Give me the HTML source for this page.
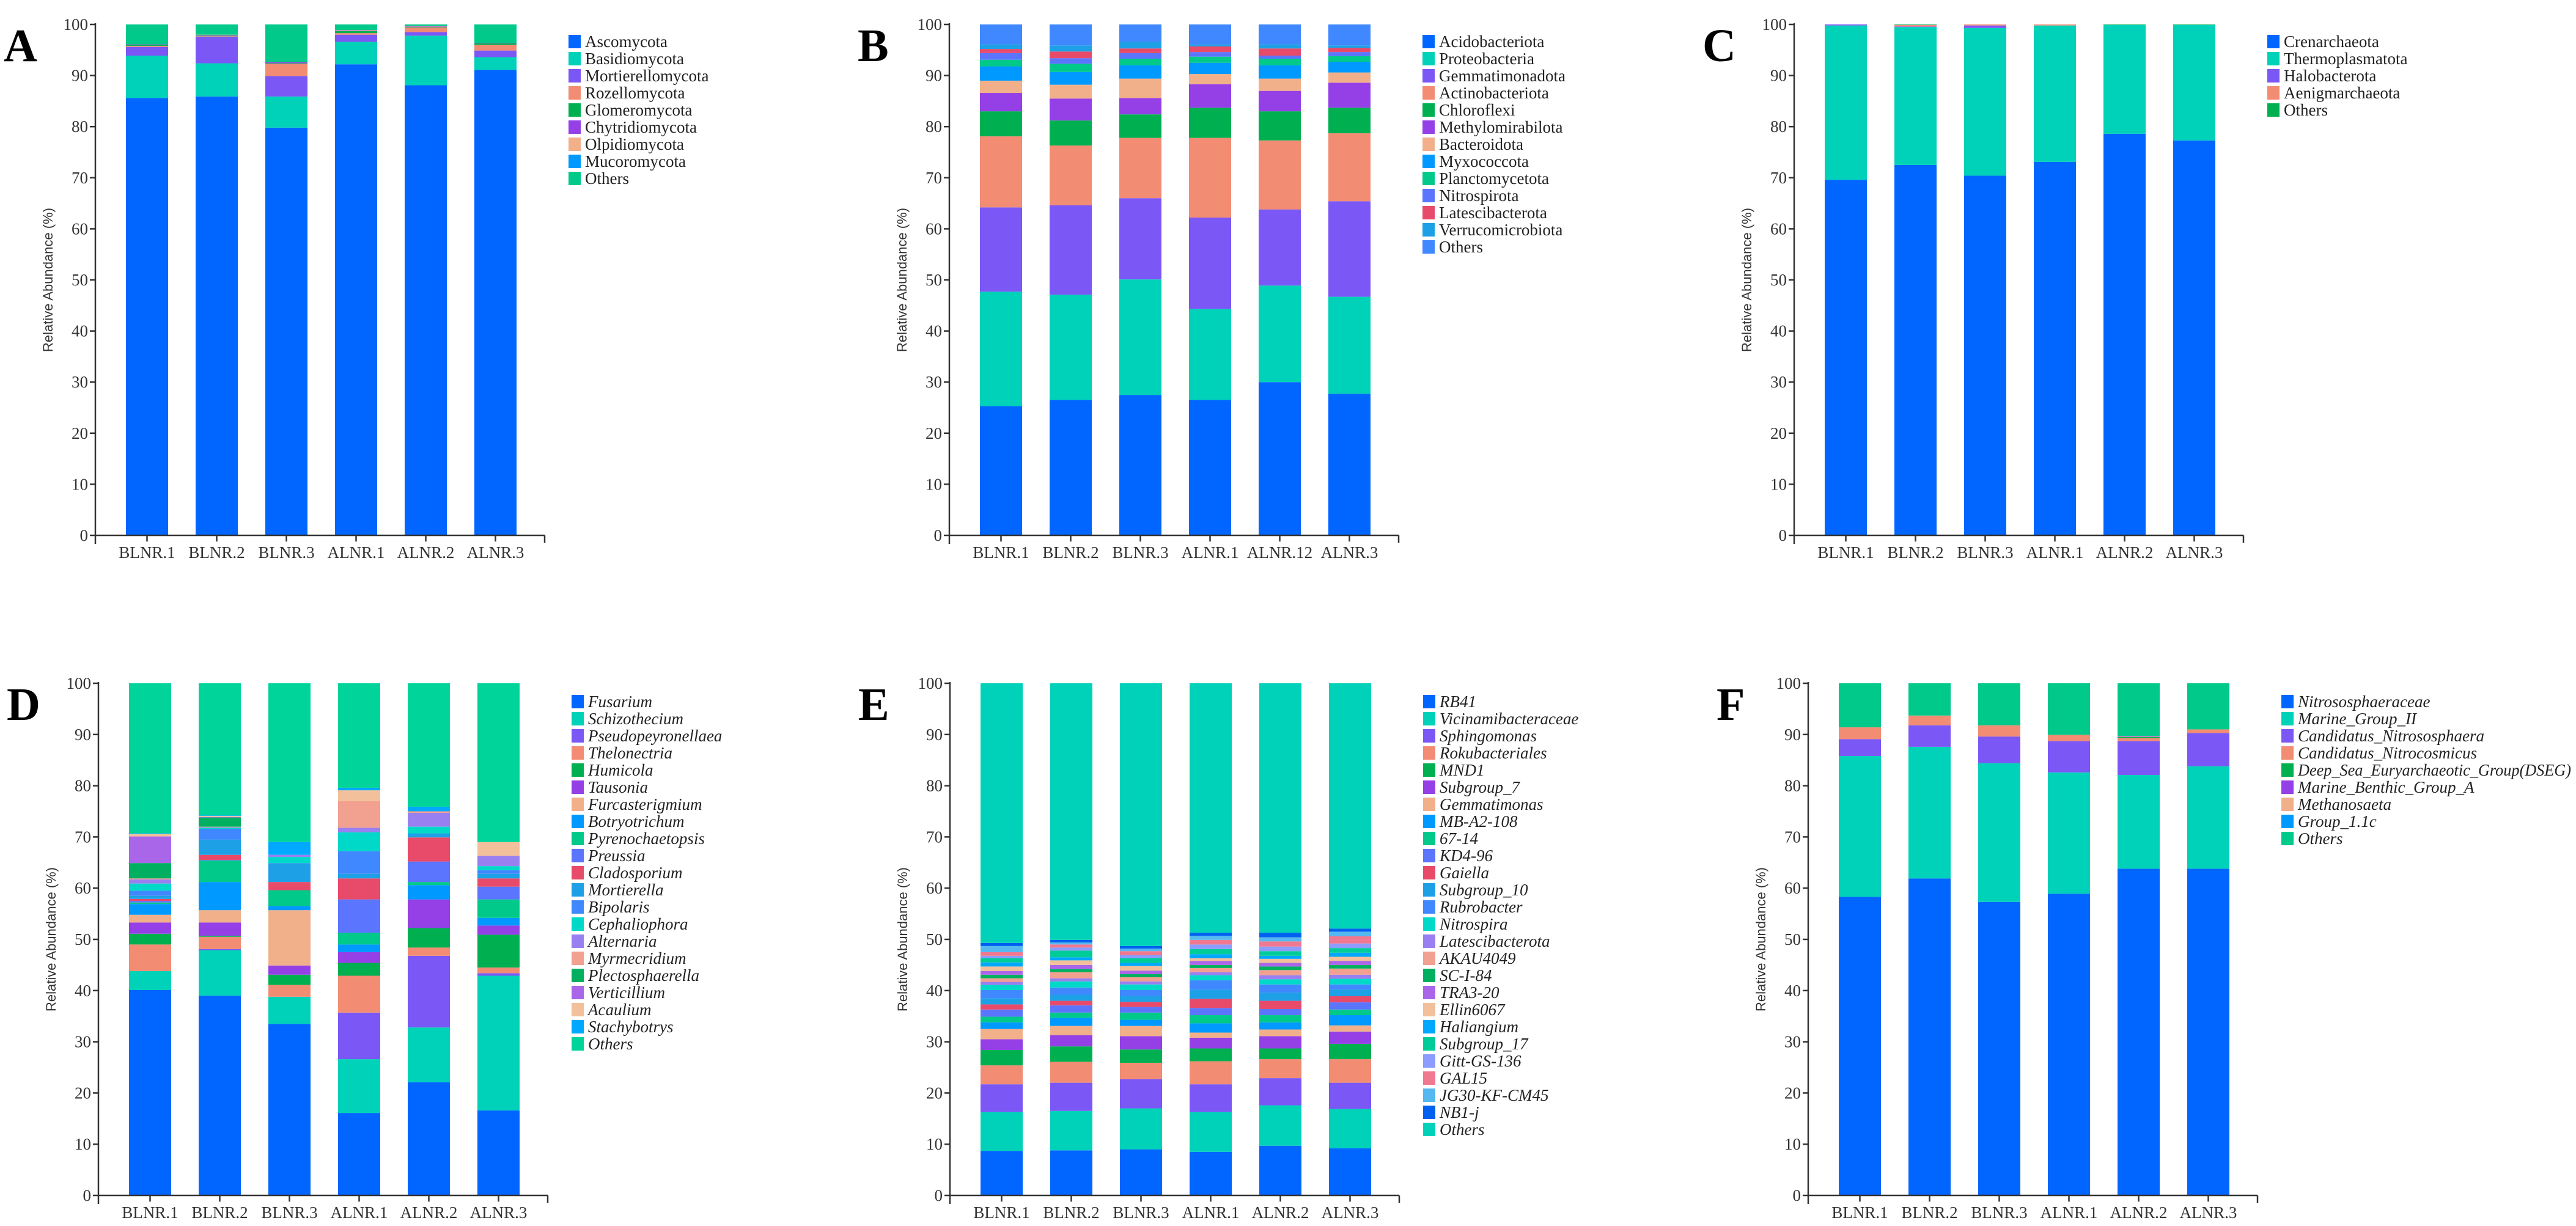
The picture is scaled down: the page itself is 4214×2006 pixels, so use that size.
<!DOCTYPE html>
<html><head><meta charset="utf-8"><title>Relative abundance stacked bar charts</title>
<style>
html,body{margin:0;padding:0;background:#fff;}
svg{display:block;}
</style></head>
<body>
<svg id="chart" xmlns="http://www.w3.org/2000/svg" width="4214" height="2006" viewBox="0 0 4214 2006"></svg>
<script>
// ---------- shared data ----------
const samples = ['BLNR.1','BLNR.2','BLNR.3','ALNR.1','ALNR.2','ALNR.3'];
const samplesB = ['BLNR.1','BLNR.2','BLNR.3','ALNR.1','ALNR.12','ALNR.3'];
const yTicks = [0,10,20,30,40,50,60,70,80,90,100];

// ---------- Panel A (fungal phyla) ----------
const aNames = ['Ascomycota','Basidiomycota','Mortierellomycota','Rozellomycota','Glomeromycota','Chytridiomycota','Olpidiomycota','Mucoromycota','Others'];
const aValues = [
  [85.6,85.9,79.8,92.2,88.1,91.1],
  [8.3,6.5,6.1,4.4,9.7,2.5],
  [1.7,5.2,4.0,1.4,0.7,1.3],
  [0.2,0.1,2.4,0.3,0.9,1.1],
  [0.2,0.1,0.1,0.4,0.1,0.3],
  [0.1,0.1,0.2,0.1,0.1,0.1],
  [0.0,0.1,0.0,0.1,0.1,0.0],
  [0.0,0.0,0.0,0.0,0.0,0.0],
  [3.9,2.0,7.4,1.1,0.3,3.6]
];

// ---------- Panel B (bacterial phyla) ----------
const bNames = ['Acidobacteriota','Proteobacteria','Gemmatimonadota','Actinobacteriota','Chloroflexi','Methylomirabilota','Bacteroidota','Myxococcota','Planctomycetota','Nitrospirota','Latescibacterota','Verrucomicrobiota','Others'];
const bValues = [
  [25.3,26.5,27.5,26.5,30.0,27.7],
  [22.4,20.6,22.6,17.8,18.9,19.0],
  [16.5,17.5,15.9,17.9,14.9,18.7],
  [13.9,11.7,11.8,15.6,13.5,13.3],
  [4.9,4.9,4.6,5.9,5.7,5.0],
  [3.6,4.3,3.2,4.6,4.0,4.9],
  [2.4,2.7,3.8,2.0,2.4,2.0],
  [2.8,2.5,2.6,2.2,2.6,2.1],
  [1.3,1.6,1.3,1.2,1.3,1.1],
  [1.3,1.1,1.1,0.9,0.6,0.8],
  [0.8,1.3,0.9,1.1,1.4,0.8],
  [0.9,1.2,1.3,0.4,0.8,0.5],
  [3.9,4.1,3.4,3.9,3.9,4.1]
];

// ---------- Panel C (archaeal phyla) ----------
const cNames = ['Crenarchaeota','Thermoplasmatota','Halobacterota','Aenigmarchaeota','Others'];
const cValues = [
  [69.6,72.5,70.4,73.1,78.6,77.3],
  [30.2,27.0,28.9,26.7,21.3,22.6],
  [0.2,0.1,0.5,0.0,0.0,0.0],
  [0.0,0.3,0.2,0.2,0.0,0.0],
  [0.0,0.1,0.0,0.0,0.1,0.1]
];

// ---------- Panel D (fungal genera) ----------
const dNames = ['Fusarium','Schizothecium','Pseudopeyronellaea','Thelonectria','Humicola','Tausonia','Furcasterigmium','Botryotrichum','Pyrenochaetopsis','Preussia','Cladosporium','Mortierella','Bipolaris','Cephaliophora','Alternaria','Myrmecridium','Plectosphaerella','Verticillium','Acaulium','Stachybotrys','Others'];
const dValues = [
  [40.1,39.0,33.5,16.1,22.1,16.6],
  [3.7,8.9,5.3,10.5,10.7,26.3],
  [0.0,0.2,0.0,9.1,14.0,0.5],
  [5.2,2.4,2.3,7.2,1.6,1.1],
  [2.1,0.2,2.0,2.5,3.8,6.4],
  [2.2,2.6,1.8,2.1,5.6,1.8],
  [1.5,2.4,10.8,0.0,0.0,0.0],
  [2.1,5.5,0.8,1.5,2.8,1.5],
  [0.3,4.2,3.1,2.3,0.6,3.6],
  [0.3,0.1,0.0,6.5,4.0,2.5],
  [0.4,1.0,1.6,4.1,4.7,1.6],
  [0.6,3.0,3.7,0.9,0.8,0.9],
  [1.0,2.1,0.0,4.4,0.0,0.7],
  [1.4,0.2,1.2,3.7,1.3,0.8],
  [0.8,0.1,0.4,0.9,2.7,2.0],
  [0.2,0.1,0.0,5.2,0.3,0.0],
  [3.0,1.8,0.0,0.0,0.0,0.0],
  [5.2,0.1,0.0,0.0,0.0,0.0],
  [0.5,0.2,0.0,2.1,0.0,2.7],
  [0.1,0.1,2.5,0.5,0.9,0.0],
  [29.3,25.8,31.0,20.4,24.1,31.0]
];

// ---------- Panel E (bacterial genera) ----------
const eNames = ['RB41','Vicinamibacteraceae','Sphingomonas','Rokubacteriales','MND1','Subgroup_7','Gemmatimonas','MB-A2-108','67-14','KD4-96','Gaiella','Subgroup_10','Rubrobacter','Nitrospira','Latescibacterota','AKAU4049','SC-I-84','TRA3-20','Ellin6067','Haliangium','Subgroup_17','Gitt-GS-136','GAL15','JG30-KF-CM45','NB1-j','Others'];
const eValues = [
  [8.7,8.8,9.0,8.5,9.7,9.2],
  [7.6,7.7,8.0,7.8,7.9,7.7],
  [5.4,5.5,5.7,5.4,5.3,5.1],
  [3.7,4.1,3.2,4.5,3.7,4.6],
  [3.0,3.0,2.6,2.5,2.1,3.0],
  [2.1,2.2,2.6,2.1,2.4,2.4],
  [2.0,1.8,2.0,1.0,1.3,1.2],
  [1.3,1.6,1.2,1.8,1.4,2.0],
  [1.1,1.0,1.4,1.6,1.4,1.1],
  [1.4,1.4,1.1,1.4,1.2,1.4],
  [1.0,0.9,1.0,1.8,1.6,1.2],
  [1.2,1.2,1.1,1.8,1.6,1.3],
  [1.6,1.4,1.2,1.8,1.6,1.0],
  [1.0,1.2,1.1,1.0,1.0,1.1],
  [0.6,0.6,0.6,0.6,0.8,0.8],
  [0.7,1.2,0.8,0.8,1.0,1.2],
  [0.7,0.6,0.6,0.6,0.7,0.7],
  [0.7,0.8,0.7,0.8,0.7,0.8],
  [0.9,0.9,0.9,0.5,0.8,0.8],
  [0.8,0.6,0.6,0.8,0.6,0.8],
  [0.8,1.3,0.9,1.0,0.9,0.9],
  [0.5,0.6,0.6,0.9,0.9,0.9],
  [0.7,0.6,0.8,0.9,1.0,1.4],
  [1.2,0.4,0.5,0.8,0.8,0.9],
  [0.6,0.5,0.5,0.6,0.9,0.6],
  [50.7,50.1,51.3,48.7,48.7,47.9]
];

// ---------- Panel F (archaeal families) ----------
const fNames = ['Nitrososphaeraceae','Marine_Group_II','Candidatus_Nitrososphaera','Candidatus_Nitrocosmicus','Deep_Sea_Euryarchaeotic_Group(DSEG)','Marine_Benthic_Group_A','Methanosaeta','Group_1.1c','Others'];
const fValues = [
  [58.3,61.9,57.3,58.9,63.8,63.8],
  [27.5,25.7,27.1,23.7,18.3,20.0],
  [3.3,4.2,5.2,6.1,6.6,6.5],
  [2.3,1.9,2.2,1.2,0.6,0.7],
  [0.0,0.0,0.0,0.1,0.2,0.0],
  [0.0,0.0,0.0,0.0,0.1,0.0],
  [0.0,0.0,0.0,0.0,0.1,0.0],
  [0.0,0.0,0.0,0.0,0.0,0.0],
  [8.6,6.3,8.2,10.0,10.3,9.0]
];

// ---------- styles (colours) ----------
const base = ['#0066FF','#00D1B9','#7B57F5','#F28C73','#00B050','#9440E6','#F2B08A','#0099FF','#00C98A','#5B75FF','#E84A6A','#1EA0E6','#4088FF','#00D9C8','#9980F0','#F2A090','#00B060','#AA66E8','#F2C09A','#00A8FF'];
const colA = base.slice(0,8).concat(['#00C98A']);
const colB = base.slice(0,12).concat(['#4088FF']);
const colC = ['#0066FF','#00D1B9','#7B57F5','#F28C73','#00B050'];
const colD = base.slice(0,20).concat(['#00D49A']);
const colE = base.slice(0,20).concat(['#00CC99','#8C9CFF','#F07890','#55B8F0','#0060F0','#00D1B9']);
const colF = base.slice(0,8).concat(['#00C98A']);

const NS = 'http://www.w3.org/2000/svg';
const svg = document.getElementById('chart');
function mk(tag, attrs, parent){
  const e = document.createElementNS(NS, tag);
  for (const k in attrs) e.setAttribute(k, attrs[k]);
  (parent||svg).appendChild(e);
  return e;
}
const SERIF = '"Liberation Serif", serif';
const SANS = '"Liberation Sans", sans-serif';

function drawPanel(p){
  const g = mk('g', {});
  
  
  const ax = p.ax, y0 = p.y0, y100 = p.y100;
  const yS = v => y0 - v/100*(y0 - y100);
  const barW = 69, pitch = 114, first = ax + 50;
  const xS = i => first + i*pitch;

  const L = mk('text', {x: ax-150, y: y100+60, 'font-family': SERIF, 'font-weight':'bold', 'font-size': 76, fill:'#000'}, g);
  L.textContent = p.letter;
  
  

  for (let i = 0; i < p.labels.length; i++){
    const bg = mk('g', {}, g);
    
    
    let cum = 0;
    for (let s = 0; s < p.values.length; s++){
      const v = p.values[s][i];
      if (v <= 0) { continue; }
      const yt = yS(cum + v), yb = yS(cum);
      const r = mk('rect', {x: xS(i), y: yt, width: barW, height: Math.max(0, yb - yt), fill: p.colors[s]}, bg);
      
      
      cum += v;
    }
  }

  const yax = mk('line', {x1: ax, y1: y100 - 2, x2: ax, y2: y0 + 14, stroke:'#333', 'stroke-width': 2.5}, g);
  
  
  for (const t of yTicks){
    mk('line', {x1: ax - 9, y1: yS(t), x2: ax, y2: yS(t), stroke:'#333', 'stroke-width': 2.5}, g);
    const tl = mk('text', {x: ax - 12, y: yS(t) + 9, 'text-anchor':'end', 'font-family': SERIF, 'font-size': 27, fill:'#333'}, g);
    tl.textContent = t;
    
    
  }
  const xax = mk('line', {x1: ax, y1: y0, x2: ax + 735, y2: y0, stroke:'#333', 'stroke-width': 2.5}, g);
  
  
  mk('line', {x1: ax + 735, y1: y0, x2: ax + 735, y2: y0 + 12, stroke:'#333', 'stroke-width': 2.5}, g);
  for (let i = 0; i < p.labels.length; i++){
    const cx = xS(i) + barW/2;
    mk('line', {x1: cx, y1: y0, x2: cx, y2: y0 + 10, stroke:'#333', 'stroke-width': 2.5}, g);
    const xl = mk('text', {x: cx, y: y0 + 37, 'text-anchor':'middle', 'font-family': SERIF, 'font-size': 27, fill:'#333'}, g);
    xl.textContent = p.labels[i];
    
    
  }
  const cy = (y0 + y100)/2;
  const yt = mk('text', {x: ax - 70, y: cy, 'text-anchor':'middle', 'font-family': SANS, 'font-size': 22, fill:'#333', transform: 'rotate(-90 ' + (ax - 70) + ' ' + cy + ')'}, g);
  yt.textContent = 'Relative Abundance (%)';
  
  

  const lg = mk('g', {}, g);
  
  
  for (let s = 0; s < p.names.length; s++){
    const ly = p.legendY + s*28;
    const eg = mk('g', {}, lg);
    
    
    mk('rect', {x: ax + 774, y: ly - 11, width: 20, height: 22, fill: p.colors[s]}, eg);
    const tx = mk('text', {x: ax + 801, y: ly + 9, 'font-family': SERIF, 'font-size': 27, 'font-style': p.italic ? 'italic' : 'normal', fill:'#222'}, eg);
    tx.textContent = p.names[s];
    const len = tx.getComputedTextLength();
    if (ax + 801 + len > 4206) {
      tx.setAttribute('textLength', 4206 - (ax + 801));
      tx.setAttribute('lengthAdjust', 'spacingAndGlyphs');
    }
  }
}

const R1 = {y0: 876, y100: 40, legendY: 68};
const R2 = {y0: 1956, y100: 1118, legendY: 1148};
drawPanel(Object.assign({letter:'A', ax:156, names:aNames, values:aValues, colors:colA, labels:samples, italic:false}, R1));
drawPanel(Object.assign({letter:'B', ax:1553, names:bNames, values:bValues, colors:colB, labels:samplesB, italic:false}, R1));
drawPanel(Object.assign({letter:'C', ax:2935, names:cNames, values:cValues, colors:colC, labels:samples, italic:false}, R1));
drawPanel(Object.assign({letter:'D', ax:161, names:dNames, values:dValues, colors:colD, labels:samples, italic:true}, R2));
drawPanel(Object.assign({letter:'E', ax:1554, names:eNames, values:eValues, colors:colE, labels:samples, italic:true}, R2));
drawPanel(Object.assign({letter:'F', ax:2958, names:fNames, values:fValues, colors:colF, labels:samples, italic:true}, R2));
</script>
</body></html>
